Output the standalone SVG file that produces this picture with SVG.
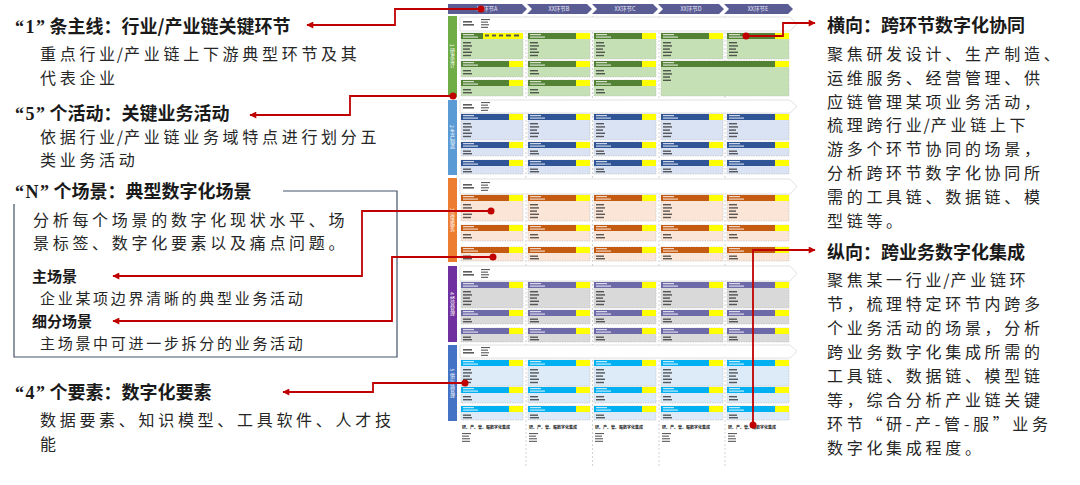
<svg xmlns="http://www.w3.org/2000/svg" xmlns:xlink="http://www.w3.org/1999/xlink" width="1080" height="485" viewBox="0 0 1080 485">
<style>
.t{font-family:"Noto Sans CJK SC","Noto Sans",sans-serif;font-weight:700;font-size:18px;fill:#1a1a1a}
.q{font-family:"Liberation Serif","Noto Sans CJK SC",serif;font-weight:700;letter-spacing:1.5px}
.b{font-family:"Noto Sans CJK SC","Noto Sans",sans-serif;font-size:16px;letter-spacing:3.7px;fill:#262626}
.sl{letter-spacing:1px}
.s{font-family:"Noto Sans CJK SC","Noto Sans",sans-serif;font-weight:700;font-size:15px;fill:#1a1a1a}
.sb{font-family:"Noto Sans CJK SC","Noto Sans",sans-serif;font-size:15px;letter-spacing:2.7px;fill:#262626}
.cb{fill:var(--bd);stroke:#bdbdbd;stroke-width:.6;stroke-dasharray:1.5 1}
.ch{fill:var(--hd)}
.cy{fill:#ffff00}
.tw{fill:#ffffff;opacity:.75}
.tk{fill:#333333;opacity:.8}
.ban{fill:#ffffff;stroke:#d9d9d9;stroke-width:.8}
.hdr{fill:#5a5c94}
.hl{font-family:"Noto Sans CJK SC",sans-serif;font-size:5.5px;fill:#e6e6f5;text-anchor:middle}
.vl{font-family:"Noto Sans CJK SC",sans-serif;font-size:5px;fill:#ffffff;writing-mode:vertical-rl;text-anchor:middle}
.ft{font-family:"Noto Sans CJK SC",sans-serif;font-size:4px;font-weight:700;fill:#222}
.sep{stroke:#bfbfbf;stroke-width:.7;stroke-dasharray:2 2;fill:none}
.red{fill:none;stroke:#c00000;stroke-width:1.8}
.dot{fill:#c00000}
</style>
<defs>
<marker id="ah" viewBox="0 0 10 10" refX="9" refY="5" markerUnits="userSpaceOnUse" markerWidth="8" markerHeight="7" orient="auto">
<path d="M0,0 L10,5 L0,10 z" fill="#c00000"/>
</marker>
<g id="c1">
<rect class="cb" width="62" height="26"/>
<rect class="ch" width="48" height="6"/>
<rect class="cy" x="48" width="14" height="6"/>
<rect class="tw" x="2" y="1" width="11" height="1.2"/>
<rect class="tw" x="2" y="3.5" width="15" height="1.2"/>
<rect class="tk" x="2" y="9" width="8" height="1.4"/>
<rect class="tk" x="2" y="12.2" width="9" height="1.4"/>
<rect class="tk" x="2" y="15.4" width="7" height="1.4"/>
<rect class="tk" x="2" y="18.6" width="9" height="1.4"/>
<rect class="tk" x="2" y="21.8" width="8" height="1.4"/>
</g>
<g id="c2">
<rect class="cb" width="62" height="16"/>
<rect class="ch" width="48" height="6"/>
<rect class="cy" x="48" width="14" height="6"/>
<rect class="tw" x="2" y="1" width="11" height="1.2"/>
<rect class="tw" x="2" y="3.5" width="15" height="1.2"/>
<rect class="tk" x="2" y="9" width="8" height="1.4"/>
<rect class="tk" x="2" y="12" width="9" height="1.4"/>
</g>
<g id="c3">
<rect class="cb" width="62" height="14"/>
<rect class="ch" width="48" height="6"/>
<rect class="cy" x="48" width="14" height="6"/>
<rect class="tw" x="2" y="1" width="11" height="1.2"/>
<rect class="tw" x="2" y="3.5" width="15" height="1.2"/>
<rect class="tk" x="2" y="8.5" width="8" height="1.4"/>
<rect class="tk" x="2" y="11" width="9" height="1.4"/>
</g>
<g id="bt">
<rect class="tk" x="0" y="0" width="9" height="1.6"/>
<rect class="tk" x="0" y="3" width="11" height="1.6"/>
<rect class="tk" x="18" y="-2" width="9" height="1.1"/>
<rect class="tk" x="18" y="0.6" width="7" height="1.1"/>
<rect class="tk" x="18" y="3.2" width="8" height="1.1"/>
<rect class="tk" x="18" y="5.8" width="7" height="1.1"/>
</g>
<g id="fo">
<text class="ft" x="0" y="0">研、产、管、服数字化集成</text>
<rect class="tk" x="0" y="4" width="9" height="1.1"/>
<rect class="tk" x="0" y="6.6" width="7" height="1.1"/>
<rect class="tk" x="0" y="9.2" width="8" height="1.1"/>
<rect class="tk" x="0" y="11.8" width="8" height="1.1"/>
</g>
</defs>
<rect width="1080" height="485" fill="#ffffff"/>

<g id="matrix">
<g id="matrix-separators">
<path class="sep" d="M526,16 V468 M592.5,16 V468 M659,16 V468 M725,16 V468"/>
</g>
<g id="matrix-header">
<path class="hdr" d="M448,4 H522 L527,9 L522,14 H448 Z"/>
<path class="hdr" d="M527,4 H587 L592,9 L587,14 H527 L532,9 Z"/>
<path class="hdr" d="M592,4 H653 L658,9 L653,14 H592 L597,9 Z"/>
<path class="hdr" d="M658,4 H719 L724,9 L719,14 H658 L663,9 Z"/>
<path class="hdr" d="M724,4 H788 L793,9 L788,14 H724 L729,9 Z"/>
<text class="hl" x="487" y="11">XX环节A</text>
<text class="hl" x="559" y="11">XX环节B</text>
<text class="hl" x="625" y="11">XX环节C</text>
<text class="hl" x="691" y="11">XX环节D</text>
<text class="hl" x="758" y="11">XX环节E</text>
</g>

<g id="band-1" style="--hd:#548235;--bd:#c5e0b4">
<rect x="448" y="16" width="9" height="81" fill="#70ad47"/>
<text class="vl" x="452.5" y="56">1 研发设计</text>
<path class="ban" d="M460,17 H790 L797,24 L790,31 H460 Z"/>
<use href="#bt" x="463" y="21"/>
<use href="#c1" x="461" y="33"/><use href="#c1" x="528" y="33"/><use href="#c1" x="594" y="33"/><use href="#c1" x="661" y="33"/><use href="#c1" x="727" y="33"/>
<rect x="483" y="33" width="40" height="6" fill="#ffff00"/>
<rect x="485" y="34.5" width="4" height="2" fill="#555"/><rect x="492" y="34.5" width="4" height="2" fill="#555"/><rect x="499" y="34.5" width="4" height="2" fill="#555"/><rect x="506" y="34.5" width="5" height="2" fill="#555"/><rect x="514" y="34.5" width="5" height="2" fill="#555"/>
<use href="#c2" x="461" y="61"/><use href="#c2" x="528" y="61"/><use href="#c2" x="594" y="61"/>
<use href="#c2" x="461" y="80"/><use href="#c2" x="528" y="80"/><use href="#c2" x="594" y="80"/>
<rect class="cb" x="661" y="61" width="128" height="35"/>
<rect class="ch" x="661" y="61" width="114" height="6"/>
<rect class="cy" x="775" y="61" width="14" height="6"/>
<rect class="tw" x="663" y="62" width="11" height="1.2"/><rect class="tw" x="663" y="64.5" width="15" height="1.2"/>
<rect class="tk" x="663" y="70" width="8" height="1.4"/><rect class="tk" x="663" y="73.2" width="9" height="1.4"/><rect class="tk" x="663" y="76.4" width="7" height="1.4"/><rect class="tk" x="663" y="79.6" width="8" height="1.4"/>
</g>

<g id="band-2" style="--hd:#2f5597;--bd:#dae3f3">
<rect x="448" y="100" width="9" height="75" fill="#5b9bd5"/>
<text class="vl" x="452.5" y="137">2 生产制造</text>
<path class="ban" d="M460,100 H790 L797,106.5 L790,113 H460 Z"/>
<use href="#bt" x="463" y="104"/>
<use href="#c1" x="461" y="114"/><use href="#c1" x="528" y="114"/><use href="#c1" x="594" y="114"/><use href="#c1" x="661" y="114"/><use href="#c1" x="727" y="114"/>
<use href="#c3" x="461" y="142"/><use href="#c3" x="528" y="142"/><use href="#c3" x="594" y="142"/><use href="#c3" x="661" y="142"/><use href="#c3" x="727" y="142"/>
<use href="#c3" x="461" y="160"/><use href="#c3" x="528" y="160"/><use href="#c3" x="594" y="160"/><use href="#c3" x="661" y="160"/><use href="#c3" x="727" y="160"/>
</g>

<g id="band-3" style="--hd:#c55a11;--bd:#fbe5d6">
<rect x="448" y="178" width="9" height="84" fill="#ed7d31"/>
<text class="vl" x="452.5" y="220">3 运维服务</text>
<path class="ban" d="M460,179 H790 L797,186.5 L790,194 H460 Z"/>
<use href="#bt" x="463" y="184"/>
<use href="#c1" x="461" y="195"/><use href="#c1" x="528" y="195"/><use href="#c1" x="594" y="195"/><use href="#c1" x="661" y="195"/><use href="#c1" x="727" y="195"/>
<use href="#c2" x="461" y="225"/><use href="#c2" x="528" y="225"/><use href="#c2" x="594" y="225"/><use href="#c2" x="661" y="225"/><use href="#c2" x="727" y="225"/>
<use href="#c3" x="461" y="247"/><use href="#c3" x="528" y="247"/><use href="#c3" x="594" y="247"/><use href="#c3" x="661" y="247"/><use href="#c3" x="727" y="247"/>
</g>

<g id="band-4" style="--hd:#6e6aa8;--bd:#d9d9d9">
<rect x="448" y="266" width="9" height="76" fill="#7030a0"/>
<text class="vl" x="452.5" y="304">4 经营管理</text>
<path class="ban" d="M460,266 H790 L797,273.5 L790,281 H460 Z"/>
<use href="#bt" x="463" y="271"/>
<use href="#c1" x="461" y="282"/><use href="#c1" x="528" y="282"/><use href="#c1" x="594" y="282"/><use href="#c1" x="661" y="282"/><use href="#c1" x="727" y="282"/>
<use href="#c3" x="461" y="310"/><use href="#c3" x="528" y="310"/><use href="#c3" x="594" y="310"/><use href="#c3" x="661" y="310"/><use href="#c3" x="727" y="310"/>
<use href="#c3" x="461" y="328"/><use href="#c3" x="528" y="328"/><use href="#c3" x="594" y="328"/><use href="#c3" x="661" y="328"/><use href="#c3" x="727" y="328"/>
</g>

<g id="band-5" style="--hd:#00b0f0;--bd:#dcebf7">
<rect x="448" y="345" width="9" height="76" fill="#4472c4"/>
<text class="vl" x="452.5" y="383">5 供应链管理</text>
<path class="ban" d="M460,345 H790 L797,351.5 L790,358 H460 Z"/>
<use href="#bt" x="463" y="349"/>
<use href="#c1" x="461" y="360"/><use href="#c1" x="528" y="360"/><use href="#c1" x="594" y="360"/><use href="#c1" x="661" y="360"/><use href="#c1" x="727" y="360"/>
<use href="#c2" x="461" y="387"/><use href="#c2" x="528" y="387"/><use href="#c2" x="594" y="387"/><use href="#c2" x="661" y="387"/><use href="#c2" x="727" y="387"/>
<use href="#c3" x="461" y="406"/><use href="#c3" x="528" y="406"/><use href="#c3" x="594" y="406"/><use href="#c3" x="661" y="406"/><use href="#c3" x="727" y="406"/>
</g>

<g id="matrix-footer">
<use href="#fo" x="462" y="429"/><use href="#fo" x="529" y="429"/><use href="#fo" x="595" y="429"/><use href="#fo" x="662" y="429"/><use href="#fo" x="728" y="429"/>
</g>
</g>

<g id="node-line">
<text class="t" x="15" y="33"><tspan class="q">“1”</tspan><tspan dx="3">条主线：行业/产业链关键环节</tspan></text>
<text class="b" x="40" y="60">重点行业<tspan class="sl" dx="-2">/</tspan>产业链上下游典型环节及其</text>
<text class="b" x="40" y="83.5">代表企业</text>
</g>
<g id="node-activity">
<text class="t" x="15" y="120"><tspan class="q">“5”</tspan><tspan dx="3">个活动：关键业务活动</tspan></text>
<text class="b" x="40" y="143">依据行业<tspan class="sl" dx="-2">/</tspan>产业链业务域特点进行划分五</text>
<text class="b" x="40" y="165.5">类业务活动</text>
</g>
<g id="node-scene">
<path d="M283,191 H397 V357 H14 V204" fill="none" stroke="#44546a" stroke-width="1.2"/>
<text class="t" x="15" y="198"><tspan class="q">“N”</tspan><tspan dx="3">个场景：典型数字化场景</tspan></text>
<text class="b" x="33" y="225.5">分析每个场景的数字化现状水平、场</text>
<text class="b" x="33" y="248.5">景标签、数字化要素以及痛点问题。</text>
<text class="s" x="32" y="282">主场景</text>
<text class="sb" x="40" y="304">企业某项边界清晰的典型业务活动</text>
<text class="s" x="32" y="327">细分场景</text>
<text class="sb" x="40" y="348.5">主场景中可进一步拆分的业务活动</text>
</g>
<g id="node-element">
<text class="t" x="15" y="399"><tspan class="q">“4”</tspan><tspan dx="3">个要素：数字化要素</tspan></text>
<text class="b" x="40" y="425.5">数据要素、知识模型、工具软件、人才技</text>
<text class="b" x="40" y="450">能</text>
</g>
<g id="node-horizontal">
<text class="t" x="827" y="32">横向：跨环节数字化协同</text>
<text class="b" x="827" y="60">聚焦研发设计、生产制造、</text>
<text class="b" x="827" y="83.8">运维服务、经营管理、供</text>
<text class="b" x="827" y="107.6">应链管理某项业务活动，</text>
<text class="b" x="827" y="131.4">梳理跨行业<tspan class="sl" dx="-2">/</tspan>产业链上下</text>
<text class="b" x="827" y="155.2">游多个环节协同的场景，</text>
<text class="b" x="827" y="179">分析跨环节数字化协同所</text>
<text class="b" x="827" y="202.8">需的工具链、数据链、模</text>
<text class="b" x="827" y="226.6">型链等。</text>
</g>
<g id="node-vertical">
<text class="t" x="827" y="259">纵向：跨业务数字化集成</text>
<text class="b" x="827" y="286">聚焦某一行业<tspan class="sl" dx="-2">/</tspan>产业链环</text>
<text class="b" x="827" y="310">节，梳理特定环节内跨多</text>
<text class="b" x="827" y="334">个业务活动的场景，分析</text>
<text class="b" x="827" y="358">跨业务数字化集成所需的</text>
<text class="b" x="827" y="382">工具链、数据链、模型链</text>
<text class="b" x="827" y="406">等，综合分析产业链关键</text>
<text class="b" x="827" y="430">环节“研-产-管-服”业务</text>
<text class="b" x="827" y="454">数字化集成程度。</text>
</g>

<g id="connectors">
<path class="red" d="M481,9 H395 V25 H307" marker-end="url(#ah)"/>
<path class="red" d="M453,96 H350 V115 H250" marker-end="url(#ah)"/>
<path class="red" d="M491,211 H362 V276 H113" marker-end="url(#ah)"/>
<path class="red" d="M493,257 H392 V321 H113" marker-end="url(#ah)"/>
<path class="red" d="M465,383 H373 V392 H283" marker-end="url(#ah)"/>
<path class="red" d="M746,36 H783 V23 H815" marker-end="url(#ah)"/>
<path class="red" d="M753,425 V250 H815" marker-end="url(#ah)"/>
<circle class="dot" cx="481" cy="9" r="3.5"/>
<circle class="dot" cx="453" cy="96" r="3.5"/>
<circle class="dot" cx="491" cy="211" r="3.5"/>
<circle class="dot" cx="493" cy="257" r="3.5"/>
<circle class="dot" cx="465" cy="383" r="3.5"/>
<circle class="dot" cx="746" cy="36" r="3.5"/>
<circle class="dot" cx="753" cy="425" r="3.5"/>
</g>
</svg>
